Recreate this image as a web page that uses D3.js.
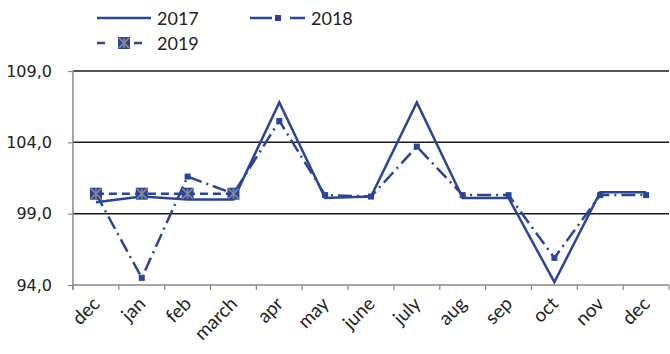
<!DOCTYPE html>
<html>
<head>
<meta charset="utf-8">
<script src="https://cdn.jsdelivr.net/npm/d3@7"></script>
<style>
  html, body { margin: 0; padding: 0; background: #fff; }
  svg { display: block; }
</style>
</head>
<body>
<svg id="chart" width="670" height="354"></svg>
<script>
// Monthly index values, Dec of previous year through Dec
const months = ["dec", "jan", "feb", "march", "apr", "may", "june", "july", "aug", "sep", "oct", "nov", "dec"];
const values2017 = [99.8, 100.2, 100.0, 100.0, 106.8, 100.1, 100.2, 106.8, 100.1, 100.1, 94.2, 100.5, 100.5];
const values2018 = [100.4, 94.5, 101.6, 100.4, 105.5, 100.3, 100.2, 103.7, 100.3, 100.3, 95.9, 100.3, 100.3];
const values2019 = [100.4, 100.4, 100.4, 100.4];
const yTicks = [94, 99, 104, 109];
const seriesNames = ["2017", "2018", "2019"];

const blue = "#2B449A";
const svg = d3.select("#chart");

const margin = { left: 73, right: 669, top: 71, bottom: 285 };

const x = d3.scaleBand()
  .domain(d3.range(months.length))
  .range([margin.left, margin.right])
  .paddingInner(0).paddingOuter(0);

const y = d3.scaleLinear().domain([94, 109]).range([margin.bottom, margin.top]);
const cx = i => x(i) + x.bandwidth() / 2;

// Horizontal gridlines
svg.append("g")
  .selectAll("line")
  .data(yTicks.filter(t => t !== 94))
  .join("line")
  .attr("x1", margin.left).attr("x2", margin.right)
  .attr("y1", d => y(d)).attr("y2", d => y(d))
  .attr("stroke", "#1a1a1a").attr("stroke-width", 1.5);

// Y axis
const yAxis = d3.axisLeft(y)
  .tickValues(yTicks)
  .tickSize(5)
  .tickPadding(16)
  .tickFormat(d => d3.format(".1f")(d).replace(".", ","));

const gy = svg.append("g")
  .attr("transform", `translate(${margin.left},0)`)
  .call(yAxis);
gy.select(".domain").remove();
gy.append("line")
  .attr("x1", 0).attr("x2", 0)
  .attr("y1", margin.top).attr("y2", margin.bottom + 5)
  .attr("stroke", "#888").attr("stroke-width", 1.5);
gy.selectAll(".tick line").attr("stroke", "#888").attr("stroke-width", 1.2);
gy.selectAll(".tick text")
  .attr("font-family", "DejaVu Sans, Verdana, sans-serif")
  .attr("font-size", 16)
  .attr("fill", "#222");

// X axis: boundary ticks between months
const gx = svg.append("g");
gx.append("line")
  .attr("x1", margin.left).attr("x2", margin.right)
  .attr("y1", margin.bottom).attr("y2", margin.bottom)
  .attr("stroke", "#888").attr("stroke-width", 1.5);
const boundaries = d3.range(months.length + 1).map(i => i < months.length ? x(i) : x(months.length - 1) + x.bandwidth());
gx.selectAll("line.tk")
  .data(boundaries)
  .join("line")
  .attr("class", "tk")
  .attr("x1", d => d).attr("x2", d => d)
  .attr("y1", margin.bottom).attr("y2", margin.bottom + 5)
  .attr("stroke", "#888").attr("stroke-width", 1.2);

gx.selectAll("text")
  .data(months)
  .join("text")
  .attr("transform", (d, i) => `translate(${cx(i) + 5},${margin.bottom + 20}) rotate(-45)`)
  .attr("text-anchor", "end")
  .attr("font-family", "Lato, 'Open Sans', sans-serif")
  .attr("font-size", 19)
  .attr("fill", "#222")
  .text(d => d);

const line = d3.line().x((d, i) => cx(i)).y(d => y(d));

// 2017: solid
svg.append("path")
  .datum(values2017)
  .attr("d", line)
  .attr("fill", "none")
  .attr("stroke", blue)
  .attr("stroke-width", 2.5)
  .attr("stroke-linejoin", "miter");

// 2018: dash-dot with small square markers
svg.append("path")
  .datum(values2018)
  .attr("d", line)
  .attr("fill", "none")
  .attr("stroke", blue)
  .attr("stroke-width", 2.5)
  .attr("stroke-dasharray", "14,5,2,5");
svg.append("g")
  .selectAll("rect")
  .data(values2018)
  .join("rect")
  .attr("x", (d, i) => cx(i) - 3)
  .attr("y", d => y(d) - 3)
  .attr("width", 6).attr("height", 6)
  .attr("fill", blue);

// 2019: dashed with boxed star markers
svg.append("path")
  .datum(values2019)
  .attr("d", line)
  .attr("fill", "none")
  .attr("stroke", blue)
  .attr("stroke-width", 2.5)
  .attr("stroke-dasharray", "8,5");

function starMarker(g, px, py) {
  const s = 6;
  g.append("rect")
    .attr("x", px - s).attr("y", py - s)
    .attr("width", 2 * s).attr("height", 2 * s)
    .attr("fill", blue);
  const arms = [[-s, -s, s, s], [-s, s, s, -s], [0, -s, 0, s]];
  arms.forEach(a => {
    g.append("line")
      .attr("x1", px + a[0] * 0.85).attr("y1", py + a[1] * 0.85)
      .attr("x2", px + a[2] * 0.85).attr("y2", py + a[3] * 0.85)
      .attr("stroke", "#8a8a8a").attr("stroke-width", 1.6);
  });
}
const g19 = svg.append("g");
values2019.forEach((v, i) => starMarker(g19, cx(i), y(v)));

// Legend
const leg = svg.append("g").attr("font-family", "Lato, 'Open Sans', sans-serif").attr("font-size", 18).attr("fill", "#222");
// 2017
leg.append("line").attr("x1", 97).attr("x2", 151).attr("y1", 18).attr("y2", 18)
  .attr("stroke", blue).attr("stroke-width", 2.5);
leg.append("text").attr("x", 157).attr("y", 24.5).text(seriesNames[0]);
// 2018
leg.append("line").attr("x1", 250).attr("x2", 272).attr("y1", 18).attr("y2", 18)
  .attr("stroke", blue).attr("stroke-width", 2.5);
leg.append("rect").attr("x", 275).attr("y", 15).attr("width", 6).attr("height", 6).attr("fill", blue);
leg.append("line").attr("x1", 290).attr("x2", 305).attr("y1", 18).attr("y2", 18)
  .attr("stroke", blue).attr("stroke-width", 2.5);
leg.append("text").attr("x", 311).attr("y", 24.5).text(seriesNames[1]);
// 2019
leg.append("line").attr("x1", 97).attr("x2", 105).attr("y1", 43).attr("y2", 43)
  .attr("stroke", blue).attr("stroke-width", 2.5);
leg.append("line").attr("x1", 134).attr("x2", 142).attr("y1", 43).attr("y2", 43)
  .attr("stroke", blue).attr("stroke-width", 2.5);
starMarker(leg, 124, 43);
leg.append("text").attr("x", 157).attr("y", 49.5).text(seriesNames[2]);
</script>
</body>
</html>
